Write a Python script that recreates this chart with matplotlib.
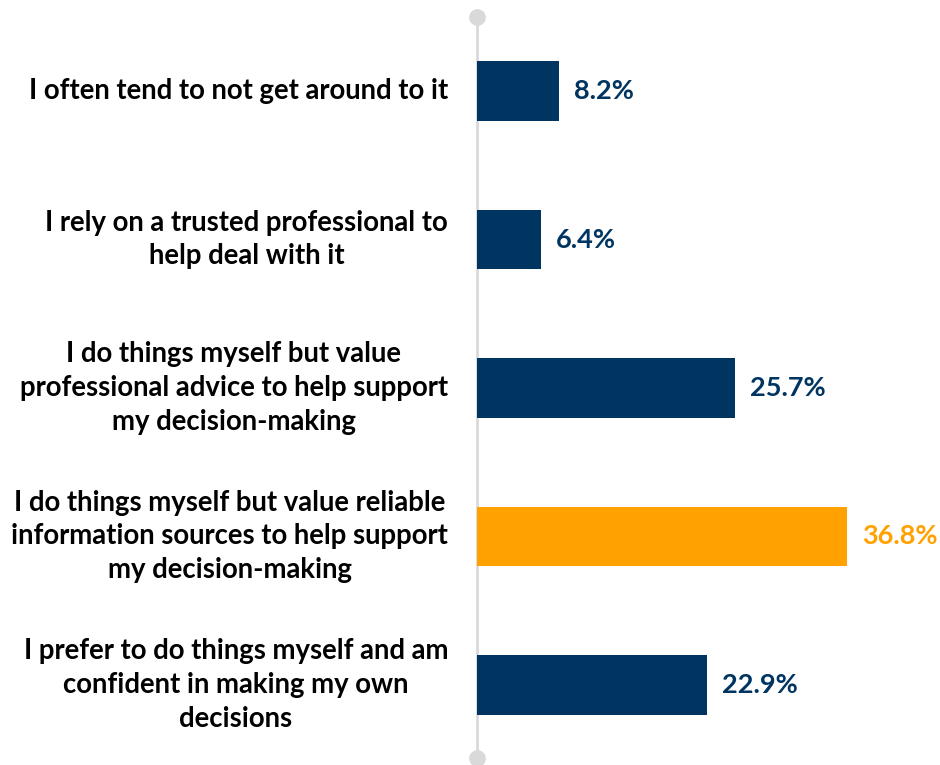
import matplotlib
matplotlib.use("Agg")
import matplotlib.pyplot as plt

categories = [
    "I often tend to not get around to it",
    "I rely on a trusted professional to\nhelp deal with it",
    "I do things myself but value\nprofessional advice to help support\nmy decision-making",
    "I do things myself but value reliable\ninformation sources to help support\nmy decision-making",
    "I prefer to do things myself and am\nconfident in making my own\ndecisions",
]
values = [8.2, 6.4, 25.7, 36.8, 22.9]
highlight = [False, False, False, True, False]

NAVY = "#003562"
ORANGE = "#FFA100"
GRAY = "#D9D9D9"

plt.rcParams['font.family'] = ['Lato', 'DejaVu Sans']

fig = plt.figure(figsize=(9.4, 7.65), dpi=100)
ax = fig.add_axes([477/940, 0, 1 - 477/940, 1])
ax.set_xlim(0, (940 - 477) / 10.05)
ax.set_ylim(4.539, -0.613)
ax.axis('off')

ypos = list(range(len(categories)))
colors = [ORANGE if h else NAVY for h in highlight]
ax.barh(ypos, values, height=0.4, color=colors, zorder=2)

ax.plot([0, 0], [-0.498, 4.49], color=GRAY, lw=2, zorder=1, clip_on=False)
ax.plot([0, 0], [-0.498, 4.49], 'o', color=GRAY, ms=11, zorder=1, clip_on=False)

for y, v, c, lab in zip(ypos, values, colors, categories):
    ax.annotate(f"{v:.1f}%", (v, y), xytext=(15, 0), textcoords='offset pixels',
                ha='left', va='center', fontsize=19.5, fontweight='bold', color=c)
    ax.annotate(lab, (0, y), xytext=(-29, 0), textcoords='offset pixels',
                ha='right', va='center', multialignment='center',
                fontsize=19.8, fontweight='bold', color='black',
                linespacing=1.36, annotation_clip=False)

fig.savefig("out.png", dpi=100)
